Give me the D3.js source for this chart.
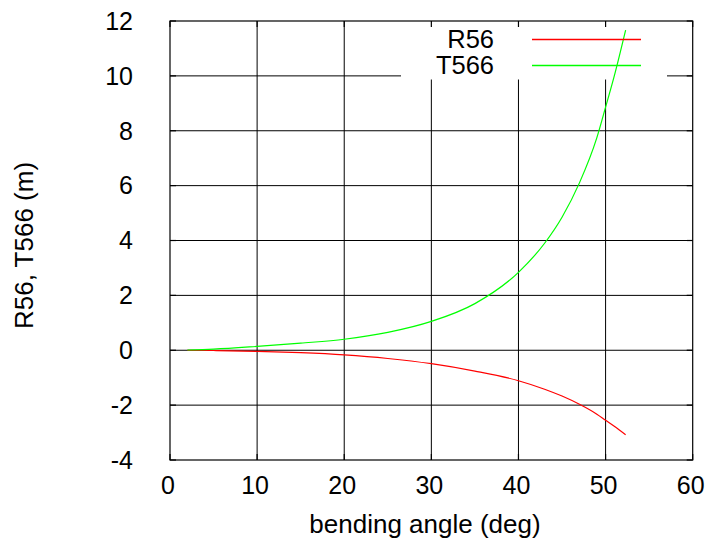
<!DOCTYPE html>
<html>
<head>
<meta charset="utf-8">
<script src="https://cdn.jsdelivr.net/npm/d3@7"></script>
<style>
  body { margin: 0; background: #fff; }
  svg text { font-family: "Liberation Sans", Arial, Helvetica, sans-serif; fill: #000; }
</style>
</head>
<body>
<div id="wrapper"></div>
<script>
// bending angle (deg)
const angle = [2, 5, 10, 15, 20, 25, 30, 35, 40, 43, 45, 47, 49, 50, 51, 52.3];
// R56 (m)
const r56 = [0, -0.01, -0.04, -0.09, -0.17, -0.3, -0.49, -0.76, -1.11, -1.42, -1.67, -1.97, -2.33, -2.55, -2.77, -3.08];
// T566 (m)
const t566 = [0.01, 0.04, 0.14, 0.26, 0.4, 0.65, 1.05, 1.7, 2.84, 3.9, 4.85, 6.1, 7.75, 8.86, 10.0, 11.67];

const xTicks = [0, 10, 20, 30, 40, 50, 60];
const yTicks = [-4, -2, 0, 2, 4, 6, 8, 10, 12];

const series = [
  { name: "R56", values: r56, color: "#ff0000" },
  { name: "T566", values: t566, color: "#00ff00" }
];

const width = 709, height = 538;
const plot = { left: 170, right: 692.7, top: 21, bottom: 460 };

const x = d3.scaleLinear().domain([0, 60]).range([plot.left, plot.right]);
const y = d3.scaleLinear().domain([-4, 12]).range([plot.bottom, plot.top]);

const svg = d3.select("#wrapper").append("svg")
  .attr("width", width)
  .attr("height", height);

// grid
const grid = svg.append("g")
  .attr("stroke", "#000")
  .attr("stroke-width", 1);

grid.selectAll("line.gx")
  .data(xTicks.slice(1, -1))
  .join("line")
  .attr("class", "gx")
  .attr("x1", d => x(d)).attr("x2", d => x(d))
  .attr("y1", plot.top).attr("y2", plot.bottom);

grid.selectAll("line.gy")
  .data(yTicks.slice(1, -1))
  .join("line")
  .attr("class", "gy")
  .attr("y1", d => y(d)).attr("y2", d => y(d))
  .attr("x1", plot.left).attr("x2", plot.right);

// key area clears the grid behind it
svg.append("rect")
  .attr("x", 401).attr("y", plot.top + 0.5)
  .attr("width", 266).attr("height", 58)
  .attr("fill", "#fff");

// border
svg.append("rect")
  .attr("x", plot.left).attr("y", plot.top)
  .attr("width", plot.right - plot.left)
  .attr("height", plot.bottom - plot.top)
  .attr("fill", "none")
  .attr("stroke", "#000")
  .attr("stroke-width", 1.2);

// ticks (inside, mirrored)
const tickLen = 6;
const ticks = svg.append("g").attr("stroke", "#000").attr("stroke-width", 1.2);
xTicks.forEach(t => {
  ticks.append("line").attr("x1", x(t)).attr("x2", x(t)).attr("y1", plot.bottom).attr("y2", plot.bottom - tickLen);
  ticks.append("line").attr("x1", x(t)).attr("x2", x(t)).attr("y1", plot.top).attr("y2", plot.top + tickLen);
});
yTicks.forEach(t => {
  ticks.append("line").attr("y1", y(t)).attr("y2", y(t)).attr("x1", plot.left).attr("x2", plot.left + tickLen);
  ticks.append("line").attr("y1", y(t)).attr("y2", y(t)).attr("x1", plot.right).attr("x2", plot.right - tickLen);
});

// tick labels
svg.append("g").selectAll("text")
  .data(xTicks)
  .join("text")
  .attr("x", d => x(d) - 2)
  .attr("y", 494)
  .attr("text-anchor", "middle")
  .attr("font-size", 25)
  .text(d => d);

svg.append("g").selectAll("text")
  .data(yTicks)
  .join("text")
  .attr("x", 133)
  .attr("y", d => y(d))
  .attr("dy", "0.35em")
  .attr("text-anchor", "end")
  .attr("font-size", 25)
  .text(d => d);

// axis titles
svg.append("text")
  .attr("x", 425)
  .attr("y", 533)
  .attr("text-anchor", "middle")
  .attr("font-size", 26)
  .text("bending angle (deg)");

svg.append("text")
  .attr("transform", "translate(33,245.5) rotate(-90)")
  .attr("text-anchor", "middle")
  .attr("font-size", 26)
  .text("R56, T566 (m)");

// curves
const line = d3.line()
  .x((d, i) => x(angle[i]))
  .y(d => y(d))
  .curve(d3.curveMonotoneX);

svg.append("g").selectAll("path")
  .data(series)
  .join("path")
  .attr("fill", "none")
  .attr("stroke", d => d.color)
  .attr("stroke-width", 1.2)
  .attr("d", d => line(d.values));

// key
const keyY = i => 39.5 + i * 26;

svg.append("g").selectAll("text")
  .data(series)
  .join("text")
  .attr("x", 494)
  .attr("y", (d, i) => keyY(i))
  .attr("dy", "0.35em")
  .attr("text-anchor", "end")
  .attr("font-size", 25.5)
  .text(d => d.name);

svg.append("g").selectAll("line")
  .data(series)
  .join("line")
  .attr("x1", 532).attr("x2", 641)
  .attr("y1", (d, i) => keyY(i)).attr("y2", (d, i) => keyY(i))
  .style("stroke", d => d.color)
  .style("stroke-width", 1.5);
</script>
</body>
</html>
